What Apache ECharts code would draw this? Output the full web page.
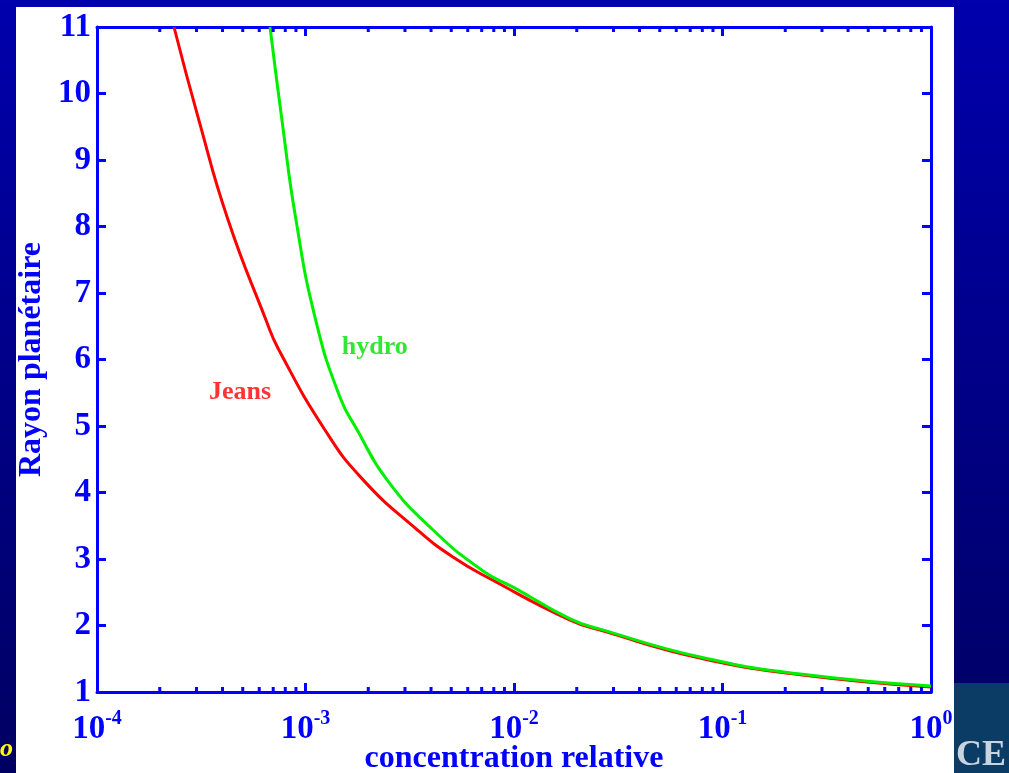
<!DOCTYPE html>
<html>
<head>
<meta charset="utf-8">
<script src="https://cdn.jsdelivr.net/npm/echarts@6/dist/echarts.min.js"></script>
<style>
  html, body { margin: 0; padding: 0; background: #0000a0; }
  #main { width: 1009px; height: 773px; }
</style>
</head>
<body>
<div id="main"></div>
<script>
// Jeans escape curve (concentration relative, rayon planetaire)
var jeansConc = [2.34e-4, 3.08e-4, 4.25e-4, 6.47e-4, 7.38e-4, 1.24e-3, 1.89e-3, 3.43e-3, 5.09e-3, 7.92e-3, 1.86e-2, 2.59e-2, 7.8e-2, 0.236, 1.0];
var jeansRadius = [11, 9.6, 8.1, 6.59, 6.17, 4.94, 4.19, 3.44, 3.03, 2.68, 2.08, 1.93, 1.51, 1.26, 1.075];

// hydrodynamic escape curve
var hydroConc = [6.76e-4, 7.71e-4, 9.0e-4, 1.12e-3, 1.46e-3, 1.77e-3, 2.46e-3, 4.08e-3, 7.1e-3, 1.0e-2, 1.86e-2, 2.59e-2, 7.8e-2, 0.236, 1.0];
var hydroRadius = [11, 9.6, 8.1, 6.59, 5.44, 4.94, 4.19, 3.44, 2.82, 2.57, 2.1, 1.945, 1.525, 1.27, 1.09];

// axes
var xMin = 1e-4, xMax = 1;
var yMin = 1, yMax = 11;
var minorSteps = [2, 3, 4, 5, 6, 7, 8, 9];
var decades = [1e-4, 1e-3, 1e-2, 1e-1];

// curve labels [text, conc, radius]
var curveLabels = [["Jeans", 4.85e-4, 5.5], ["hydro", 2.15e-3, 6.19]];

var blue = "#0000ff";
var serif = "'Liberation Serif', 'Times New Roman', serif";

var minorTicks = [];
for (var d = 0; d < decades.length; d++) {
    for (var m = 0; m < minorSteps.length; m++) {
        minorTicks.push([decades[d] * minorSteps[m], yMin]);
        minorTicks.push([decades[d] * minorSteps[m], yMax]);
    }
}

function pairs(xs, ys) {
    var out = [];
    for (var i = 0; i < xs.length; i++) out.push([xs[i], ys[i]]);
    return out;
}

var chart = echarts.init(document.getElementById("main"));

var tickStyle = { show: true, inside: true, length: 9, lineStyle: { color: blue, width: 3 } };

var option = {
    animation: false,
    backgroundColor: "transparent",
    graphic: [
        // slide background
        { type: "rect", z: -10, shape: { x: 0, y: 0, width: 1009, height: 773 },
          style: { fill: new echarts.graphic.LinearGradient(0, 0, 0, 1, [
              { offset: 0, color: "#0000ac" }, { offset: 1, color: "#000062" }]) } },
        { type: "rect", z: -9, shape: { x: 16, y: 7, width: 938, height: 766 }, style: { fill: "#ffffff" } },
        { type: "rect", z: -9, shape: { x: 954, y: 683, width: 55, height: 90 }, style: { fill: "#0b3c66" } },
        { type: "text", z: -8, left: 956, top: 738, style: { text: "CE", fill: "#c8d4e0", font: "bold 36px " + serif } },
        { type: "text", z: -8, left: 0, top: 736, style: { text: "o", fill: "#ffff00", font: "italic bold 26px " + serif } }
    ],
    grid: { left: 97, right: 78, top: 27, bottom: 81, containLabel: false, outerBoundsMode: "none" },
    xAxis: [{
        type: "log",
        logBase: 10,
        min: xMin,
        max: xMax,
        position: "bottom",
        name: "concentration relative",
        nameLocation: "middle",
        nameGap: 51,
        nameMoveOverlap: false,
        nameTextStyle: { color: blue, fontFamily: serif, fontWeight: "bold", fontSize: 32 },
        axisLine: { show: true, lineStyle: { color: blue, width: 3 } },
        axisTick: tickStyle,
        splitLine: { show: false },
        axisLabel: {
            margin: 17,
            formatter: function (v) {
                var e = Math.round(Math.log(v) / Math.LN10);
                return "{b|10}{s|" + e + "}";
            },
            rich: {
                b: { color: blue, fontFamily: serif, fontWeight: "bold", fontSize: 33, verticalAlign: "bottom", padding: [4, 0, 0, 0] },
                s: { color: blue, fontFamily: serif, fontWeight: "bold", fontSize: 20, verticalAlign: "top" }
            }
        }
    }, {
        type: "log",
        logBase: 10,
        min: xMin,
        max: xMax,
        position: "top",
        axisLine: { show: true, lineStyle: { color: blue, width: 3 } },
        axisTick: tickStyle,
        axisLabel: { show: false },
        splitLine: { show: false }
    }],
    yAxis: [{
        type: "value",
        min: yMin,
        max: yMax,
        interval: 1,
        position: "left",
        name: "Rayon planétaire",
        nameLocation: "middle",
        nameGap: 49,
        nameMoveOverlap: false,
        nameTextStyle: { color: blue, fontFamily: serif, fontWeight: "bold", fontSize: 32 },
        axisLine: { show: true, lineStyle: { color: blue, width: 3 } },
        axisTick: tickStyle,
        splitLine: { show: false },
        axisLabel: { margin: 6, color: blue, fontFamily: serif, fontWeight: "bold", fontSize: 33 }
    }, {
        type: "value",
        min: yMin,
        max: yMax,
        interval: 1,
        position: "right",
        axisLine: { show: true, lineStyle: { color: blue, width: 3 } },
        axisTick: tickStyle,
        axisLabel: { show: false },
        splitLine: { show: false }
    }],
    series: [{
        name: "Jeans",
        type: "line",
        data: pairs(jeansConc, jeansRadius),
        smooth: 0.5,
        showSymbol: false,
        lineStyle: { color: "#ff0000", width: 3 },
        z: 3
    }, {
        name: "hydro",
        type: "line",
        data: pairs(hydroConc, hydroRadius),
        smooth: 0.5,
        showSymbol: false,
        lineStyle: { color: "#00ee00", width: 3 },
        z: 4
    }, {
        // minor ticks on the log axis (bottom and top)
        type: "custom",
        data: minorTicks,
        silent: true,
        z: 5,
        renderItem: function (params, api) {
            var p = api.coord([api.value(0), api.value(1)]);
            var dir = api.value(1) === yMin ? -1 : 1;
            return {
                type: "line",
                shape: { x1: p[0], y1: p[1], x2: p[0], y2: p[1] + dir * 5 },
                style: { stroke: blue, lineWidth: 3 }
            };
        }
    }, {
        type: "scatter",
        data: curveLabels.map(function (c) { return { name: c[0], value: [c[1], c[2]] }; }),
        symbolSize: 0,
        silent: true,
        label: {
            show: true,
            position: "inside",
            formatter: "{b}",
            fontFamily: serif,
            fontWeight: "bold",
            fontSize: 26
        }
    }]
};

// label colour per item
option.series[3].data[0].label = { color: "#ff0000" };
option.series[3].data[1].label = { color: "#00e000" };

chart.setOption(option);
</script>
</body>
</html>
